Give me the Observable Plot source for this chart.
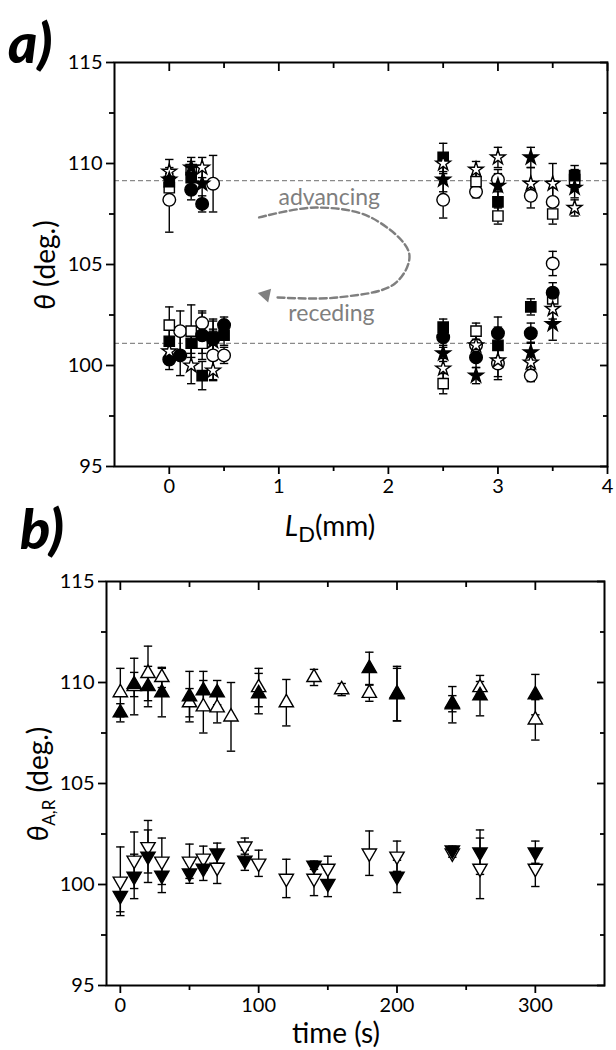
<!DOCTYPE html>
<html><head><meta charset="utf-8">
<script src="https://cdn.jsdelivr.net/npm/d3@7"></script>
<script src="https://cdn.jsdelivr.net/npm/@observablehq/plot@0.6"></script>
<style>
body{margin:0;background:#fff;}
#wrap{position:relative;width:616px;height:1050px;font-family:Lato,sans-serif;overflow:hidden;}
#wrap svg{position:absolute;left:0;}
.lbl{position:absolute;white-space:nowrap;color:#000;line-height:1;}
.rot{transform:translate(-50%,-50%) rotate(-90deg);}
.ctr{transform:translate(-50%,-50%);}
</style></head><body><div id="wrap"></div>
<script>
// ---------- Panel a data: theta vs L_D ----------
const xD = [0, 0.1, 0.2, 0.3, 0.4, 0.5, 2.5, 2.8, 3.0, 3.3, 3.5, 3.7];
const filledSquareAdv    = [109.1, null, 109.3, null, null, null, 110.3, null, 108.1, null, null, 109.4];
const filledSquareAdvErr = [0.5, null, 0.6, null, null, null, 0.7, null, 0.5, null, null, 0.5];
const filledSquareRec    = [101.2, null, 101.1, 99.5, 101.4, 101.5, 101.9, null, 101.0, 102.9, null, null];
const filledSquareRecErr = [0.6, null, 0.5, 0.7, 0.8, 0.5, 0.4, null, 0.9, 0.4, null, null];
const openSquareAdv      = [108.8, null, 109.7, null, null, null, null, 109.1, 107.4, null, 107.5, 109.2];
const openSquareAdvErr   = [0.7, null, 0.4, null, null, null, null, 0.4, 0.4, null, 0.5, 0.5];
const openSquareRec      = [102.0, null, 101.7, 101.1, null, null, 99.1, 101.7, null, null, 103.3, null];
const openSquareRecErr   = [0.9, null, 1.3, 0.5, null, null, 0.5, 0.4, null, null, 0.5, null];
const filledCircleAdv    = [null, null, 108.7, 108.0, null, null, null, null, null, null, null, null];
const filledCircleAdvErr = [null, null, 0.5, 0.4, null, null, null, null, null, null, null, null];
const filledCircleRec    = [100.3, 100.5, null, 101.5, 101.3, 102.0, 101.4, 100.4, 101.6, 101.6, 103.6, null];
const filledCircleRecErr = [0.5, 1.0, null, 1.2, 1.0, 0.4, 0.5, 0.5, 0.8, 0.5, 0.5, null];
const openCircleAdv      = [108.2, null, null, null, 109.0, null, 108.2, 108.6, 109.2, 108.4, 108.1, null];
const openCircleAdvErr   = [1.6, null, null, null, 1.4, null, 0.9, 0.3, 0.5, 0.6, 0.7, null];
const openCircleRec      = [null, 101.7, null, 102.1, 100.5, 100.5, null, 101.0, 100.1, 99.5, 105.05, null];
const openCircleRecErr   = [null, 1.0, null, 0.5, 1.2, 0.4, null, 0.8, 0.8, 0.3, 0.6, null];
const filledStarAdv      = [109.2, null, 109.8, 109.0, null, null, 109.2, null, 108.9, 110.3, null, 108.8];
const filledStarAdvErr   = [0.5, null, 0.5, 0.8, null, null, 0.6, null, 0.6, 0.5, null, 0.5];
const filledStarRec      = [null, null, null, null, 101.2, null, 100.6, 99.5, null, 100.65, 102.05, null];
const filledStarRecErr   = [null, null, null, null, 0.6, null, 0.4, 0.4, null, 0.5, 0.8, null];
const openStarAdv        = [109.6, null, null, 109.8, null, null, 110.0, 109.7, 110.3, 109.0, 109.0, 107.8];
const openStarAdvErr     = [0.6, null, null, 0.5, null, null, 0.5, 0.4, 0.5, 0.8, 1.0, 0.4];
const openStarRec        = [100.7, null, 100.0, null, 99.75, null, 99.85, 101.0, 100.25, 100.15, 102.8, null];
const openStarRecErr     = [0.5, null, 0.9, null, 0.5, null, 0.5, 0.5, 0.8, 0.5, 0.5, null];
const guideA = [109.15, 101.1];
const xTicksA = [0, 1, 2, 3, 4];
const xMinorA = [0.5, 1.5, 2.5, 3.5];
const yTicks = [95, 100, 105, 110, 115];
const yMinor = [97.5, 102.5, 107.5, 112.5];
// annotation (curved dashed arrow) anchor points, data units
const arcX = [0.82, 1.34, 1.84, 2.19, 2.06, 1.54, 0.98];
const arcY = [107.33, 107.82, 107.33, 105.54, 104.06, 103.37, 103.37];
const arrowTip = [{x: 0.88, y: 103.5}];
const annotations = [{x: 1.46, y: 108.3, t: "advancing"}, {x: 1.48, y: 102.55, t: "receding"}];

// ---------- Panel b data: theta_A,R vs time ----------
const tB = [0, 10, 20, 30, 50, 60, 70, 80, 90, 100, 120, 140, 150, 160, 180, 200, 240, 260, 300];
const advFilled    = [108.5, 109.9, 109.8, 109.5, 109.3, 109.6, 109.5, null, null, 109.45, null, null, null, null, 110.7, 109.4, 108.9, 109.35, 109.4];
const advFilledErr = [0.45, 0.6, 1.0, 1.2, 1.25, 0.95, 0.6, null, null, 1.0, null, null, null, null, 0.8, 1.3, 0.9, 1.0, 1.0];
const advOpen      = [109.5, 109.8, 110.45, 110.25, 109.0, 108.8, 108.75, 108.3, null, 109.75, 109.0, 110.25, null, 109.65, 109.47, 109.45, 108.95, 109.75, 108.15];
const advOpenErr   = [1.2, 1.4, 1.35, 0.5, 0.7, 1.3, 0.75, 1.7, null, 0.95, 1.15, 0.4, null, 0.3, 0.4, 1.35, 0.4, 0.3, 1.0];
const recFilled    = [99.45, 100.4, 101.4, 100.45, 100.56, 100.8, 101.55, null, 101.2, null, null, 100.95, 100.05, null, null, 100.4, 101.7, 101.6, 101.6];
const recFilledErr = [0.8, 1.1, 1.3, 0.85, 0.5, 0.6, 0.5, null, 0.5, null, null, 0.2, 0.65, null, null, 0.8, 0.2, 1.1, 0.55];
const recOpen      = [100.16, 101.2, 101.87, 101.15, 101.15, 101.3, 100.85, null, 101.9, 101.05, 100.3, 100.3, 100.8, null, 101.55, 101.4, 101.55, 100.8, 100.8];
const recOpenErr   = [1.7, 1.4, 1.3, 1.15, 0.85, 0.6, 0.8, null, 0.4, 0.65, 0.95, 0.85, 0.6, null, 1.1, 0.75, 0.2, 1.5, 0.9];
const xTicksB = [0, 100, 200, 300];
const xMinorB = [50, 150, 250];

// ---------- helpers ----------
function rows(xs, ys, es, series) {
  return xs.map((x, i) => ys[i] == null ? null : {x, y: ys[i], e: es[i], series}).filter(Boolean);
}
const capSym = {draw(ctx, size) { const w = Math.sqrt(size / Math.PI); ctx.moveTo(-w, 0); ctx.lineTo(w, 0); }};

const seriesA = [
  {key: "openCircle", data: [...rows(xD, openCircleAdv, openCircleAdvErr), ...rows(xD, openCircleRec, openCircleRecErr)], symbol: "circle", fill: "white", r: 6.3},
  {key: "openSquare", data: [...rows(xD, openSquareAdv, openSquareAdvErr), ...rows(xD, openSquareRec, openSquareRecErr)], symbol: "square", fill: "white", r: 5.8},
  {key: "filledCircle", data: [...rows(xD, filledCircleAdv, filledCircleAdvErr), ...rows(xD, filledCircleRec, filledCircleRecErr)], symbol: "circle", fill: "black", r: 6.3},
  {key: "filledSquare", data: [...rows(xD, filledSquareAdv, filledSquareAdvErr), ...rows(xD, filledSquareRec, filledSquareRecErr)], symbol: "square", fill: "black", r: 5.8},
  {key: "openStar", data: [...rows(xD, openStarAdv, openStarAdvErr), ...rows(xD, openStarRec, openStarRecErr)], symbol: "star", fill: "white", r: 4.6},
  {key: "filledStar", data: [...rows(xD, filledStarAdv, filledStarAdvErr), ...rows(xD, filledStarRec, filledStarRecErr)], symbol: "star", fill: "black", r: 4.6}
];
const allA = seriesA.flatMap(s => s.data);

const seriesB = [
  {data: rows(tB, advOpen, advOpenErr), fill: "white", rotate: 0},
  {data: rows(tB, advFilled, advFilledErr), fill: "black", rotate: 0},
  {data: rows(tB, recOpen, recOpenErr), fill: "white", rotate: 180},
  {data: rows(tB, recFilled, recFilledErr), fill: "black", rotate: 180}
];
const allB = seriesB.flatMap(s => s.data);

const baseStyle = {fontFamily: "Lato, sans-serif", fontSize: "20px", background: "transparent", overflow: "visible", color: "black"};

function errMarks(all) {
  return [
    Plot.ruleX(all, {x: "x", y1: d => d.y - d.e, y2: d => d.y + d.e, stroke: "black", strokeWidth: 1.4}),
    Plot.dot(all, {x: "x", y: d => d.y + d.e, symbol: capSym, r: 4.2, fill: "none", stroke: "black", strokeWidth: 1.4}),
    Plot.dot(all, {x: "x", y: d => d.y - d.e, symbol: capSym, r: 4.2, fill: "none", stroke: "black", strokeWidth: 1.4})
  ];
}
function axisMarks(xMaj, xMin) {
  const common = {label: null, strokeWidth: 1.8};
  return [
    Plot.axisX({...common, ticks: xMaj, tickSize: 8, tickPadding: 4, tickFormat: d => String(d)}),
    Plot.axisX({...common, ticks: xMin, tickSize: 5, tickFormat: () => ""}),
    Plot.axisX({...common, anchor: "top", ticks: xMaj, tickSize: -8, tickFormat: () => ""}),
    Plot.axisX({...common, anchor: "top", ticks: xMin, tickSize: -5, tickFormat: () => ""}),
    Plot.axisY({...common, ticks: yTicks, tickSize: 8, tickPadding: 4, tickFormat: d => String(d)}),
    Plot.axisY({...common, ticks: yMinor, tickSize: 5, tickFormat: () => ""}),
    Plot.axisY({...common, anchor: "right", ticks: yTicks, tickSize: -8, tickFormat: () => ""}),
    Plot.axisY({...common, anchor: "right", ticks: yMinor, tickSize: -5, tickFormat: () => ""}),
    Plot.frame({stroke: "black", strokeWidth: 2})
  ];
}

const plotA = Plot.plot({
  width: 616, height: 520,
  marginTop: 62, marginLeft: 114, marginRight: 9, marginBottom: 54,
  x: {domain: [-0.5, 4], label: null},
  y: {domain: [95, 115], label: null},
  style: baseStyle,
  marks: [
    Plot.ruleY(guideA, {stroke: "#8a8a8a", strokeWidth: 1.3, strokeDasharray: "5,3"}),
    Plot.line(arcX.map((x, i) => ({x, y: arcY[i]})), {x: "x", y: "y", curve: "catmull-rom", stroke: "#7f7f7f", strokeWidth: 2.4, strokeDasharray: "7,3.5"}),
    Plot.dot(arrowTip, {x: "x", y: "y", symbol: "triangle", r: 5.2, rotate: -78, fill: "#7f7f7f", stroke: "none"}),
    Plot.text(annotations, {x: "x", y: "y", text: "t", fill: "#7f7f7f", fontSize: 23}),
    ...errMarks(allA),
    ...seriesA.map(s => Plot.dot(s.data, {x: "x", y: "y", symbol: s.symbol, r: s.r, fill: s.fill, stroke: "black", strokeWidth: 1.4})),
    ...axisMarks(xTicksA, xMinorA)
  ]
});

const plotB = Plot.plot({
  width: 616, height: 530,
  marginTop: 61, marginLeft: 106, marginRight: 12, marginBottom: 65,
  x: {domain: [-10, 350], label: null},
  y: {domain: [95, 115], label: null},
  style: baseStyle,
  marks: [
    ...errMarks(allB),
    ...seriesB.map(s => Plot.dot(s.data, {x: "x", y: "y", symbol: "triangle", r: 5.3, rotate: s.rotate, fill: s.fill, stroke: "black", strokeWidth: 1.4})),
    ...axisMarks(xTicksB, xMinorB)
  ]
});

const wrap = document.getElementById("wrap");
plotA.style.top = "0px";
plotB.style.top = "520px";
wrap.appendChild(plotA);
wrap.appendChild(plotB);

function label(html, css, cls) {
  const d = document.createElement("div");
  d.className = "lbl " + (cls || "");
  d.innerHTML = html;
  Object.assign(d.style, css);
  wrap.appendChild(d);
}
label("a)", {left: "8px", top: "14px", fontSize: "56px", fontWeight: "900", fontStyle: "italic"});
label("b)", {left: "20px", top: "500px", fontSize: "56px", fontWeight: "900", fontStyle: "italic"});
label("<i>θ</i>&nbsp;(deg.)", {left: "44px", top: "265px", fontSize: "28px"}, "rot");
label("<i>θ</i><sub style='font-size:17px'>A,R</sub>&nbsp;(deg.)", {left: "40px", top: "784px", fontSize: "28px"}, "rot");
label("<i>L</i><sub style='font-size:22px'>D</sub>(mm)", {left: "330px", top: "528px", fontSize: "28px"}, "ctr");
label("time (s)", {left: "336px", top: "1032px", fontSize: "28px"}, "ctr");
</script></body></html>
